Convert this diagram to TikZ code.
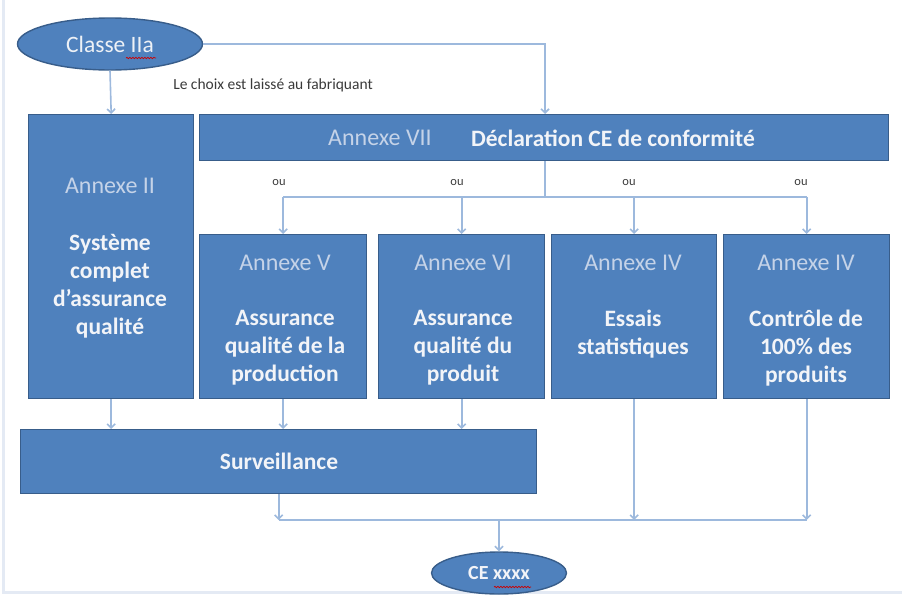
\documentclass[tikz,border=0pt]{standalone}
\usepackage{fontspec}
\setmainfont{Carlito}
\usetikzlibrary{arrows.meta,shapes.geometric,decorations.pathmorphing}
\definecolor{boxfill}{HTML}{4F81BD}
\definecolor{boxline}{HTML}{385D8A}
\definecolor{conn}{HTML}{9DB9DD}
\definecolor{annx}{HTML}{C5D3E8}
\definecolor{framec}{HTML}{E4EAF4}
\definecolor{bold}{HTML}{F2F4F8}
\definecolor{small}{HTML}{3A3A3A}
\begin{document}
\begin{tikzpicture}[x=1pt,y=-1pt,
  box/.style={draw=boxline, line width=1.4pt, fill=boxfill, inner sep=0pt, anchor=north west},
  oval/.style={ellipse, draw=boxline, line width=1.4pt, fill=boxfill, inner sep=0pt},
  ann/.style={text=annx, font=\fontsize{24}{26}\selectfont},
  btxt/.style={text=bold, font=\bfseries\fontsize{23.5}{28}\selectfont, align=center},
  conline/.style={draw=conn, line width=1.6pt},
  arr/.style={conline, -{Straight Barb[length=4pt,width=8pt]}},
  ou/.style={text=small, font=\fontsize{12.5}{14}\selectfont},
  wavy/.style={draw=red!80!black, line width=0.7pt, decorate, decoration={snake, segment length=3pt, amplitude=0.7pt}}
]
\useasboundingbox (0,0) rectangle (902,600);
% frame
\draw[framec, line width=3pt] (3,0) -- (3,592) -- (902,592);

% nodes
\node[oval, minimum width=185pt, minimum height=52pt, text=bold!90!annx, font=\fontsize{23.5}{26}\selectfont] (cl) at (110,44) {Classe IIa};
\draw[wavy] (126,58) -- (156,58);

\node[box, minimum width=165pt, minimum height=284pt] (a2) at (28,114) {};
\node[box, minimum width=689pt, minimum height=46pt] (a7) at (199,114) {};
\node[box, minimum width=167pt, minimum height=164pt] (a5) at (199,234) {};
\node[box, minimum width=166pt, minimum height=164pt] (a6) at (378,234) {};
\node[box, minimum width=165pt, minimum height=164pt] (a4a) at (551,234) {};
\node[box, minimum width=166pt, minimum height=164pt] (a4b) at (723,234) {};
\node[box, minimum width=516pt, minimum height=64pt] (surv) at (20,429) {};
\node[oval, minimum width=135pt, minimum height=42pt, text=bold, font=\bfseries\fontsize{20}{24}\selectfont] (ce) at (499,573) {CE xxxx};
\draw[wavy] (494,587) -- (531,587);

% texts
\node[ann] (t2) at (110,186) {Annexe II};
\node[btxt] (b2) at (110,286) {Système\\complet\\d’assurance\\qualité};
\node[ann] (t7) at (380,138) {Annexe VII};
\node[btxt] (b7) at (613,138) {Déclaration CE de conformité};
\node[ann] (t5) at (285,263) {Annexe V};
\node[btxt] (b5) at (285,348) {Assurance\\qualité de la\\production};
\node[ann] (t6) at (463,263) {Annexe VI};
\node[btxt] (b6) at (463,348) {Assurance\\qualité du\\produit};
\node[ann] (t4a) at (633,263) {Annexe IV};
\node[btxt] (b4a) at (633,334) {Essais\\statistiques};
\node[ann] (t4b) at (806,263) {Annexe IV};
\node[btxt] (b4b) at (806,348) {Contrôle de\\100\% des\\produits};
\node[btxt] (bs) at (279,461) {Surveillance};

\node[text=small, font=\fontsize{15.5}{18}\selectfont] (choix) at (273,85) {Le choix est laissé au fabriquant};
\node[ou] (ou1) at (279,183) {ou};
\node[ou] (ou2) at (457,183) {ou};
\node[ou] (ou3) at (629,183) {ou};
\node[ou] (ou4) at (801,183) {ou};

% connectors
\coordinate (j7) at (545,114);
\coordinate (jt) at (545,197);
\coordinate (jb) at (499,520);
\draw[arr] (cl.south) -- (a2.north);
\draw[arr] (cl.east) -| (j7);
\draw[conline] (a7.south -| jt) -- (jt);
\draw[conline] (a5.north |- jt) -- (a4b.north |- jt);
\draw[arr] (a5.north |- jt) -- (a5.north);
\draw[arr] (a6.north |- jt) -- (a6.north);
\draw[arr] (a4a.north |- jt) -- (a4a.north);
\draw[arr] (a4b.north |- jt) -- (a4b.north);

\draw[arr] (a2.south) -- (a2.south |- surv.north);
\draw[arr] (a5.south) -- (a5.south |- surv.north);
\draw[arr] (a6.south) -- (a6.south |- surv.north);
\draw[arr] (surv.south) -- (surv.south |- jb);
\draw[arr] (a4a.south) -- (a4a.south |- jb);
\draw[arr] (a4b.south) -- (a4b.south |- jb);
\draw[conline] (surv.south |- jb) -- (a4b.south |- jb);
\draw[arr] (jb) -- (ce.north);
\end{tikzpicture}
\end{document}
